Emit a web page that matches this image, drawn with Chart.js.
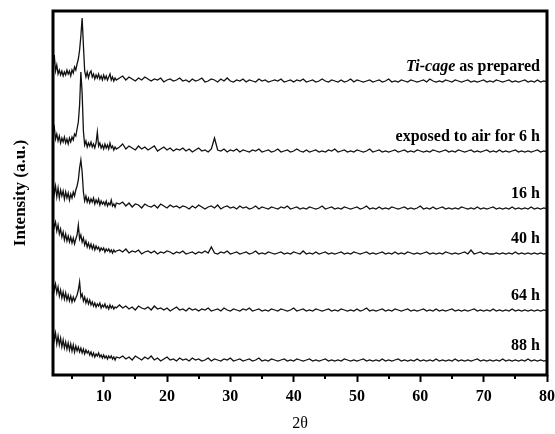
<!DOCTYPE html>
<html>
<head>
<meta charset="utf-8">
<script src="https://cdn.jsdelivr.net/npm/chart.js@4"></script>
<style>
  html, body { margin: 0; padding: 0; background: #fff; }
</style>
</head>
<body>
<canvas id="xrdChart" width="555" height="434"></canvas>
<script>
  // 2theta grid (fine steps around the low-angle peak)
  const twoTheta = [
    2.0, 2.2, 2.4, 2.6, 2.8, 3.0, 3.2, 3.4, 3.6, 3.8,
    4.0, 4.2, 4.4, 4.6, 4.8, 5.0, 5.2, 5.4, 5.6, 5.8,
    6.0, 6.2, 6.4, 6.6, 6.8, 7.0, 7.2, 7.4, 7.6, 7.8,
    8.0, 8.2, 8.4, 8.6, 8.8, 9.0, 9.2, 9.4, 9.6, 9.8,
    10.0, 10.2, 10.4, 10.6, 10.8, 11.0, 11.2, 11.4, 11.6, 11.8,
    12.0,
    12.5, 13, 13.5, 14, 14.5, 15, 15.5, 16, 16.5, 17,
    17.5, 18, 18.5, 19, 19.5, 20, 20.5, 21, 21.5, 22,
    22.5, 23, 23.5, 24, 24.5, 25, 25.5, 26, 26.5, 27,
    27.5, 28, 28.5, 29, 29.5, 30, 30.5, 31, 31.5, 32,
    32.5, 33, 33.5, 34, 34.5, 35, 35.5, 36, 36.5, 37,
    37.5, 38, 38.5, 39, 39.5, 40, 40.5, 41, 41.5, 42,
    42.5, 43, 43.5, 44, 44.5, 45, 45.5, 46, 46.5, 47,
    47.5, 48, 48.5, 49, 49.5, 50, 50.5, 51, 51.5, 52,
    52.5, 53, 53.5, 54, 54.5, 55, 55.5, 56, 56.5, 57,
    57.5, 58, 58.5, 59, 59.5, 60, 60.5, 61, 61.5, 62,
    62.5, 63, 63.5, 64, 64.5, 65, 65.5, 66, 66.5, 67,
    67.5, 68, 68.5, 69, 69.5, 70, 70.5, 71, 71.5, 72,
    72.5, 73, 73.5, 74, 74.5, 75, 75.5, 76, 76.5, 77,
    77.5, 78, 78.5, 79, 79.5, 80
  ];

  const sampleNames = ['Ti-cage as prepared', 'exposed to air for 6 h', '16 h', '40 h', '64 h', '88 h'];
  // vertical offset of each stacked pattern (a.u.)
  const offsets = [292, 222, 165, 120, 63, 13];

  // intensities above each pattern's own baseline (a.u.)
  const asPrepared = [
    14, 28, 12, 18, 9, 13, 8, 12, 7, 11,
    8, 13, 9, 12, 7, 13, 10, 16, 13, 19,
    24, 33, 47, 65, 38, 12, 6, 11, 5, 10,
    12, 6, 9, 4, 8, 5, 9, 4, 7, 3,
    8, 4, 7, 3, 6, 9, 3, 6, 2, 5,
    3,
    5, 7, 3, 6, 4, 2, 5, 3, 6, 4,
    2, 4, 3, 5, 1, 3, 4, 2, 3, 5,
    2, 3, 1, 4, 2, 3, 5, 1, 2, 4,
    3, 1, 4, 2, 5, 2, 1, 3, 2, 4,
    1, 3, 2, 1, 4, 2, 3, 1, 2, 3,
    2, 4, 1, 2, 3, 1, 3, 2, 4, 1,
    2, 3, 1, 2, 4, 2, 1, 3, 2, 1,
    3, 1, 2, 4, 1, 3, 2, 1, 2, 3,
    1, 2, 3, 1, 2, 4, 1, 2, 1, 3,
    2, 1, 3, 2, 1, 2, 3, 1, 4, 2,
    1, 2, 1, 3, 2, 1, 3, 2, 1, 2,
    3, 1, 2, 1, 2, 3, 1, 2, 1, 3,
    2, 1, 2, 3, 1, 2, 1, 2, 3, 1,
    2, 1, 3, 1, 2, 1
  ];
  const air6h = [
    22, 26, 14, 19, 12, 17, 10, 15, 11, 16,
    10, 14, 9, 15, 11, 16, 13, 19, 17, 24,
    31, 48, 81, 60, 22, 8, 12, 6, 10, 7,
    11, 6, 9, 5, 10, 21, 7, 10, 5, 8,
    4, 9, 5, 8, 4, 10, 5, 7, 3, 6,
    4,
    6, 9, 4, 7, 5, 3, 7, 4, 6, 3,
    5, 7, 2, 4, 6, 3, 5, 2, 4, 3,
    5, 2, 4, 1, 3, 5, 2, 3, 1, 4,
    15, 3, 2, 4, 1, 3, 2, 4, 1, 3,
    2, 1, 3, 2, 4, 1, 2, 3, 1, 2,
    4, 1, 2, 3, 1, 2, 4, 2, 1, 3,
    1, 2, 3, 1, 2, 1, 3, 2, 4, 1,
    2, 3, 1, 2, 1, 3, 2, 1, 2, 4,
    1, 2, 3, 1, 2, 1, 2, 3, 1, 2,
    3, 1, 2, 1, 3, 2, 1, 2, 1, 3,
    2, 1, 2, 3, 1, 2, 1, 3, 2, 1,
    2, 3, 1, 2, 1, 2, 3, 1, 2, 1,
    3, 1, 2, 1, 2, 3, 1, 2, 1, 2,
    1, 2, 3, 1, 2, 1
  ];
  const air16h = [
    30, 16, 24, 13, 22, 12, 20, 14, 19, 11,
    18, 12, 17, 10, 16, 12, 18, 14, 20, 24,
    30, 42, 50, 38, 18, 9, 14, 8, 12, 7,
    11, 8, 12, 6, 10, 7, 11, 5, 9, 6,
    8, 5, 9, 4, 7, 5, 10, 4, 6, 3,
    7,
    6, 8, 4, 7, 3, 6, 5, 2, 6, 4,
    3, 5, 2, 6, 4, 2, 5, 3, 4, 2,
    4, 3, 1, 4, 2, 5, 3, 1, 3, 4,
    2, 5, 1, 3, 4, 2, 3, 1, 4, 2,
    3, 1, 2, 4, 1, 3, 2, 1, 3, 2,
    1, 3, 2, 4, 1, 2, 3, 1, 2, 1,
    3, 2, 1, 2, 4, 1, 2, 3, 1, 2,
    1, 3, 2, 1, 2, 3, 1, 2, 4, 1,
    2, 1, 3, 1, 2, 1, 3, 2, 1, 2,
    3, 1, 2, 1, 2, 4, 1, 2, 1, 3,
    1, 2, 3, 1, 2, 1, 2, 1, 3, 2,
    1, 2, 1, 3, 1, 2, 1, 2, 3, 1,
    2, 1, 2, 1, 3, 1, 2, 1, 2, 1,
    3, 1, 2, 1, 2, 1
  ];
  const air40h = [
    35, 28, 33, 24, 30, 21, 26, 18, 23, 15,
    21, 14, 19, 13, 18, 12, 17, 11, 16, 20,
    30, 16, 20, 13, 17, 10, 14, 8, 12, 7,
    11, 6, 10, 5, 9, 6, 8, 4, 7, 5,
    7, 3, 6, 4, 6, 3, 5, 2, 5, 3,
    4,
    5, 3, 6, 2, 4, 3, 5, 1, 3, 4,
    2, 4, 1, 3, 2, 4, 3, 1, 3, 2,
    4, 1, 2, 3, 1, 3, 2, 4, 2, 8,
    2, 1, 3, 2, 4, 1, 2, 3, 1, 2,
    3, 1, 2, 4, 1, 2, 1, 3, 2, 1,
    2, 3, 1, 2, 1, 3, 2, 1, 4, 1,
    2, 1, 3, 1, 2, 3, 1, 2, 1, 2,
    3, 1, 2, 1, 3, 2, 1, 2, 3, 1,
    2, 1, 2, 3, 1, 2, 1, 3, 1, 2,
    1, 3, 2, 1, 2, 1, 2, 3, 1, 2,
    1, 2, 1, 3, 2, 1, 2, 1, 2, 3,
    1, 5, 1, 2, 3, 1, 2, 1, 1, 2,
    1, 2, 1, 2, 1, 3, 1, 2, 1, 2,
    1, 2, 1, 2, 1, 2
  ];
  const air64h = [
    32, 22, 28, 19, 25, 16, 22, 14, 20, 13,
    19, 12, 17, 11, 16, 10, 15, 11, 14, 17,
    22, 30, 15, 18, 11, 15, 9, 13, 8, 12,
    7, 10, 6, 9, 5, 8, 6, 9, 4, 7,
    5, 8, 4, 6, 3, 7, 4, 6, 3, 5,
    4,
    7, 4, 6, 3, 5, 2, 6, 4, 3, 5,
    2, 6, 3, 4, 2, 4, 1, 3, 5, 2,
    3, 1, 4, 2, 3, 1, 3, 2, 4, 1,
    2, 3, 1, 4, 2, 1, 3, 2, 1, 3,
    2, 4, 1, 2, 3, 1, 2, 1, 3, 2,
    1, 3, 2, 1, 2, 4, 1, 2, 3, 1,
    2, 1, 3, 2, 1, 2, 3, 1, 2, 1,
    3, 2, 1, 2, 1, 3, 1, 2, 4, 1,
    2, 1, 2, 3, 1, 2, 1, 3, 2, 1,
    2, 3, 1, 2, 1, 2, 3, 1, 2, 1,
    3, 1, 2, 1, 2, 3, 1, 2, 1, 2,
    1, 2, 3, 1, 2, 1, 2, 1, 3, 1,
    2, 1, 2, 1, 3, 1, 2, 1, 2, 1,
    2, 1, 2, 1, 2, 1
  ];
  const air88h = [
    37, 22, 29, 18, 26, 17, 24, 15, 22, 14,
    20, 13, 19, 12, 18, 11, 17, 10, 16, 11,
    15, 10, 14, 9, 13, 8, 12, 9, 11, 7,
    10, 6, 9, 5, 8, 6, 9, 5, 7, 4,
    7, 4, 6, 3, 6, 4, 6, 3, 5, 2,
    5,
    4, 6, 3, 5, 2, 6, 4, 2, 5, 3,
    6, 2, 4, 1, 3, 5, 2, 3, 1, 4,
    2, 3, 1, 4, 2, 3, 1, 2, 4, 1,
    3, 2, 1, 3, 2, 4, 1, 2, 3, 1,
    2, 3, 1, 2, 4, 1, 2, 1, 3, 2,
    1, 2, 3, 1, 2, 1, 3, 2, 1, 2,
    3, 1, 2, 1, 2, 3, 1, 2, 1, 2,
    1, 3, 2, 1, 2, 1, 2, 3, 1, 2,
    1, 2, 1, 3, 1, 2, 1, 2, 3, 1,
    2, 1, 2, 1, 3, 1, 2, 1, 2, 1,
    3, 1, 2, 1, 2, 1, 3, 1, 2, 1,
    2, 1, 2, 3, 1, 2, 1, 2, 1, 2,
    1, 3, 1, 2, 1, 2, 1, 2, 1, 3,
    1, 2, 1, 2, 1, 2
  ];

  const xTicks = [10, 20, 30, 40, 50, 60, 70, 80];
  const xMinorTicks = [5, 15, 25, 35, 45, 55, 65, 75];

  const series = [asPrepared, air6h, air16h, air40h, air64h, air88h];
  const serif = '"Liberation Serif", "Times New Roman", serif';

  const datasets = series.map((vals, i) => ({
    label: sampleNames[i],
    data: vals.map((v, j) => ({ x: twoTheta[j], y: v + offsets[i] })),
    borderColor: '#111',
    borderWidth: 1.3,
    pointRadius: 0,
    tension: 0,
    fill: false
  }));

  // frame, minor ticks and the sample names beside each pattern
  const decorations = {
    id: 'decorations',
    afterDraw(chart) {
      const { ctx, chartArea: a, scales: { x, y } } = chart;
      ctx.save();
      ctx.strokeStyle = '#000';
      ctx.lineWidth = 2;
      xMinorTicks.forEach(v => {
        const px = Math.round(x.getPixelForValue(v));
        ctx.beginPath();
        ctx.moveTo(px, a.bottom);
        ctx.lineTo(px, a.bottom + 4);
        ctx.stroke();
      });
      ctx.lineWidth = 3;
      ctx.strokeRect(a.left, a.top, a.right - a.left, a.bottom - a.top);

      ctx.fillStyle = '#000';
      ctx.textBaseline = 'middle';
      ctx.textAlign = 'right';
      const right = x.getPixelForValue(80) - 7;
      sampleNames.forEach((name, i) => {
        const py = y.getPixelForValue(offsets[i] + 16);
        if (i === 0) {
          const rest = ' as prepared';
          ctx.font = 'bold 16px ' + serif;
          ctx.fillText(rest, right, py);
          const w = ctx.measureText(rest).width;
          ctx.font = 'italic bold 16px ' + serif;
          ctx.fillText('Ti-cage', right - w, py);
        } else {
          ctx.font = 'bold 16px ' + serif;
          ctx.fillText(name, right, py);
        }
      });
      ctx.restore();
    }
  };

  const ctx = document.getElementById('xrdChart').getContext('2d');
  new Chart(ctx, {
    type: 'line',
    data: { datasets: datasets },
    options: {
      responsive: false,
      animation: false,
      devicePixelRatio: 1,
      layout: { padding: { top: 11, right: 8, left: 0, bottom: 0 } },
      plugins: {
        legend: { display: false },
        tooltip: { enabled: false }
      },
      scales: {
        x: {
          type: 'linear',
          min: 2,
          max: 80,
          afterBuildTicks: scale => { scale.ticks = xTicks.map(v => ({ value: v })); },
          afterFit: scale => {
            scale.height = 59;
            scale.paddingLeft = 0;
            scale.paddingRight = 0;
          },
          ticks: {
            color: '#000',
            padding: 5,
            maxRotation: 0,
            font: { family: serif, size: 16, weight: 'bold' }
          },
          grid: {
            drawOnChartArea: false,
            drawTicks: true,
            tickLength: 7,
            tickWidth: 2,
            tickColor: '#000'
          },
          border: { display: false },
          title: {
            display: true,
            text: '2θ',
            color: '#000',
            padding: { top: 0, bottom: 1 },
            font: { family: serif, size: 16 }
          }
        },
        y: {
          min: 0,
          max: 364,
          afterFit: scale => { scale.width = 53; },
          ticks: { display: false },
          grid: { display: false },
          border: { display: false },
          title: {
            display: true,
            text: 'Intensity (a.u.)',
            color: '#000',
            padding: { top: 10, bottom: 0 },
            font: { family: serif, size: 17, weight: 'bold' }
          }
        }
      }
    },
    plugins: [decorations]
  });
</script>
</body>
</html>
